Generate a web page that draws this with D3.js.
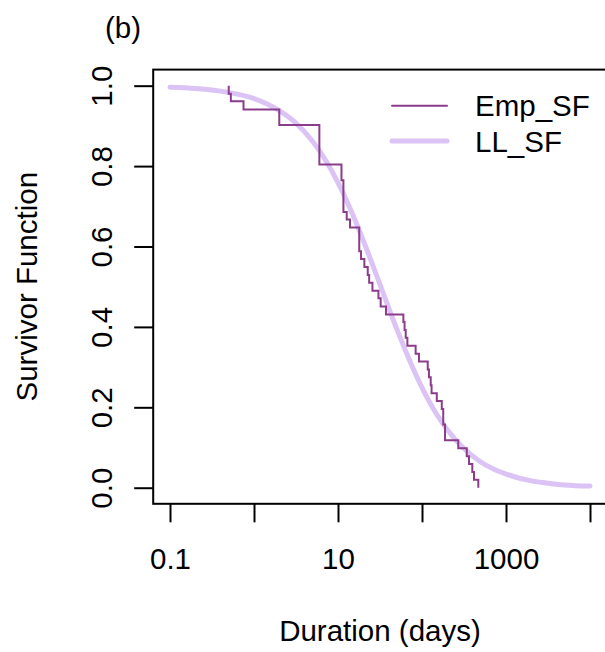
<!DOCTYPE html>
<html>
<head>
<meta charset="utf-8">
<script src="https://cdn.jsdelivr.net/npm/d3@7"></script>
<style>
  body { margin: 0; background: #fff; }
  text { font-family: "Liberation Sans", Arial, sans-serif; fill: #000; }
</style>
</head>
<body>
<div id="graphic"></div>
<script>
// empirical survivor function: drop times (days) and S after each drop
var empDays = [0.5, 0.5, 0.53, 0.75, 2, 6, 11, 11.6, 12.7, 13.9, 17.9, 18.8, 20.6, 22.6, 23.5, 25.7,
               30.3, 32.2, 37.3, 60, 62, 64, 67, 84, 92, 117, 121, 127, 130, 150, 172, 179, 188,
               270, 341, 363, 397, 416, 468];
var empSurv = [1.000, 0.980, 0.961, 0.941, 0.902, 0.804, 0.765, 0.686, 0.667, 0.647, 0.588, 0.569,
               0.549, 0.529, 0.510, 0.490, 0.471, 0.451, 0.431, 0.412, 0.392, 0.373, 0.353, 0.333,
               0.314, 0.294, 0.275, 0.255, 0.235, 0.216, 0.196, 0.157, 0.118, 0.098, 0.078, 0.059,
               0.039, 0.020, 0.000];

// log-logistic survivor function
var llDays = [0.1, 0.2, 0.5, 1, 2, 3, 5, 7, 10, 15, 20, 30, 50, 70, 100, 150, 200, 300, 500, 700,
              1000, 2000, 3000, 5000, 10000];
var llSurv = [0.996, 0.993, 0.983, 0.968, 0.938, 0.911, 0.861, 0.817, 0.759, 0.679, 0.615, 0.518,
              0.395, 0.320, 0.249, 0.182, 0.144, 0.102, 0.064, 0.047, 0.034, 0.017, 0.012, 0.007, 0.004];

var xTicks = [0.1, 1, 10, 100, 1000, 10000];
var xLabels = ["0.1", "", "10", "", "1000", ""];
var yTicks = [0, 0.2, 0.4, 0.6, 0.8, 1.0];

var legendNames = ["Emp_SF", "LL_SF"];
var empColor = "#8b3d8b", llColor = "#dcc3f5";

var width = 605, height = 652;
var plot = {left: 153.2, right: 606.8, top: 69.6, bottom: 503.8};

var svg = d3.select("#graphic").append("svg")
        .attr("width", width)
        .attr("height", height);

// R style 4% padding on the log axis
var lx = [Math.log10(0.1), Math.log10(10000)];
var pad = (lx[1] - lx[0]) * 0.04;
var x = d3.scaleLog()
        .domain([Math.pow(10, lx[0] - pad), Math.pow(10, lx[1] + pad)])
        .range([plot.left, plot.right]);

var y = d3.scaleLinear()
        .domain([-0.04, 1.04])
        .range([plot.bottom, plot.top]);

// curves
var llLine = d3.line()
        .x(function(d) { return x(d[0]); })
        .y(function(d) { return y(d[1]); })
        .curve(d3.curveMonotoneX);

svg.append("path")
        .datum(d3.zip(llDays, llSurv))
        .attr("d", llLine)
        .attr("fill", "none")
        .attr("stroke", llColor)
        .attr("stroke-width", 5)
        .attr("stroke-linecap", "round")
        .attr("stroke-linejoin", "round");

var empLine = d3.line()
        .x(function(d) { return x(d[0]); })
        .y(function(d) { return y(d[1]); })
        .curve(d3.curveStepAfter);

svg.append("path")
        .datum(d3.zip(empDays, empSurv))
        .attr("d", empLine)
        .attr("fill", "none")
        .attr("stroke", empColor)
        .attr("stroke-width", 2);

// box
svg.append("rect")
        .attr("x", plot.left)
        .attr("y", plot.top)
        .attr("width", plot.right - plot.left)
        .attr("height", plot.bottom - plot.top)
        .attr("fill", "none")
        .attr("stroke", "#000")
        .attr("stroke-width", 2);

// x axis
var x_axis = d3.axisBottom(x)
        .tickValues(xTicks)
        .tickSize(18.5)
        .tickPadding(25)
        .tickFormat(function(d, i) { return xLabels[i]; });

var gx = svg.append("g")
        .attr("transform", "translate(0," + plot.bottom + ")")
        .call(x_axis);
gx.select(".domain").remove();
gx.selectAll(".tick line").attr("stroke", "#000").attr("stroke-width", 2);
gx.selectAll(".tick text")
        .attr("dy", null)
        .attr("y", 65)
        .style("font-size", "29.5px")
        .style("font-family", "'Liberation Sans', Arial, sans-serif");

// y axis
var y_axis = d3.axisLeft(y)
        .tickValues(yTicks)
        .tickSize(19)
        .tickFormat(d3.format(".1f"));

var gy = svg.append("g")
        .attr("transform", "translate(" + plot.left + ",0)")
        .call(y_axis);
gy.select(".domain").remove();
gy.selectAll(".tick line").attr("stroke", "#000").attr("stroke-width", 2);
gy.selectAll(".tick text")
        .attr("x", null)
        .attr("dy", null)
        .attr("text-anchor", "middle")
        .attr("transform", "translate(" + (112 - plot.left) + ",0) rotate(-90)")
        .style("font-size", "29.5px")
        .style("font-family", "'Liberation Sans', Arial, sans-serif");

// axis titles
svg.append("text")
        .attr("x", (plot.left + plot.right) / 2)
        .attr("y", 641)
        .attr("text-anchor", "middle")
        .style("font-size", "29.5px")
        .text("Duration (days)");

svg.append("text")
        .attr("transform", "translate(37," + ((plot.top + plot.bottom) / 2) + ") rotate(-90)")
        .attr("text-anchor", "middle")
        .style("font-size", "29.5px")
        .text("Survivor Function");

svg.append("text")
        .attr("x", 105)
        .attr("y", 38)
        .style("font-size", "29.5px")
        .text("(b)");

// legend
var legend = svg.append("g");
var legendY = [105.7, 141];
var legendStroke = [[empColor, 2], [llColor, 5]];

legendNames.forEach(function(name, i) {
    legend.append("line")
        .attr("x1", 392)
        .attr("x2", 447)
        .attr("y1", legendY[i])
        .attr("y2", legendY[i])
        .attr("stroke", legendStroke[i][0])
        .attr("stroke-width", legendStroke[i][1])
        .attr("stroke-linecap", "round");
    legend.append("text")
        .attr("x", 475)
        .attr("y", legendY[i] + 10.5)
        .style("font-size", "29.5px")
        .text(name);
});
</script>
</body>
</html>
